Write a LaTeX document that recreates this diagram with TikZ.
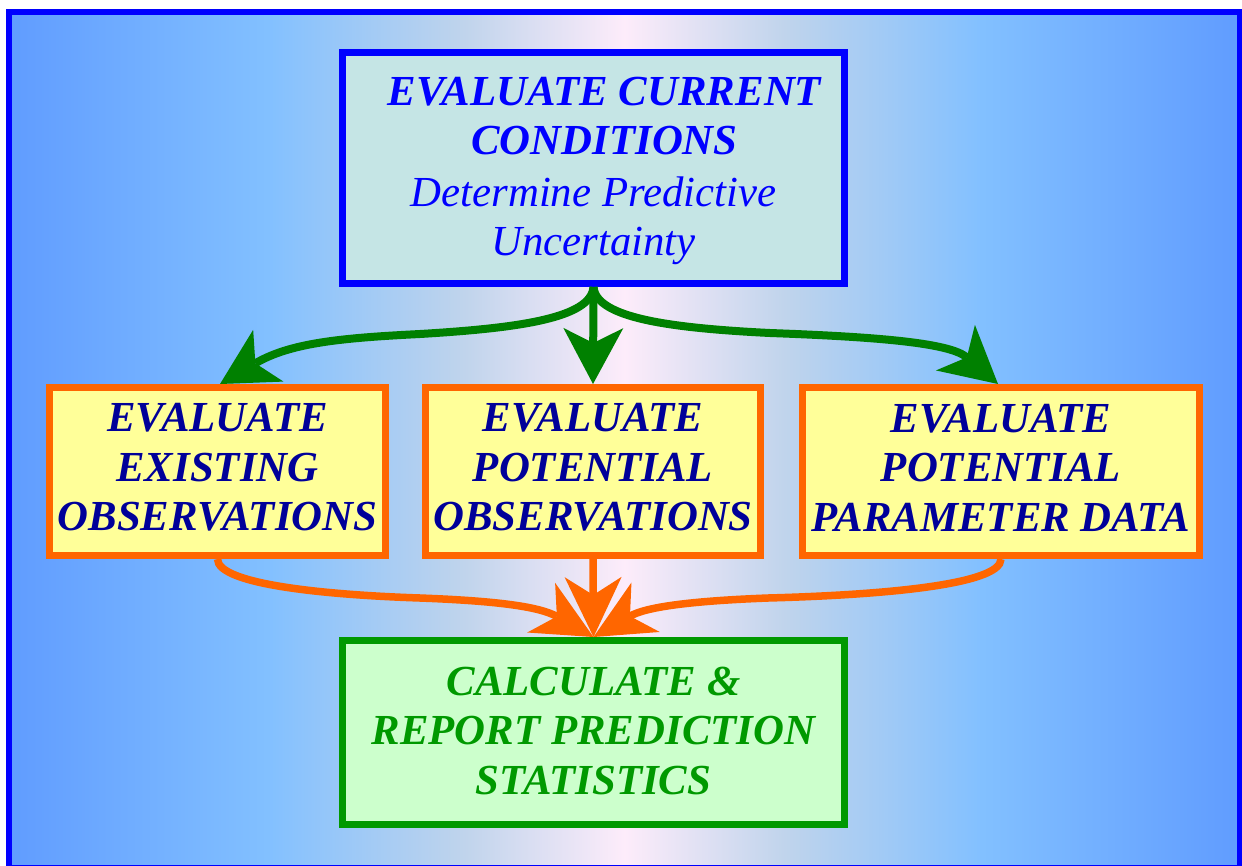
\documentclass[tikz,border=0pt]{standalone}
\usepackage{fontspec}
\setmainfont{Liberation Serif}
\usetikzlibrary{arrows.meta}
\definecolor{bgA}{RGB}{96,156,255}
\definecolor{bgB}{RGB}{130,192,255}
\definecolor{bgC}{RGB}{192,212,236}
\definecolor{bgD}{RGB}{253,236,250}
\definecolor{topblue}{RGB}{0,0,255}
\definecolor{topfill}{RGB}{197,229,229}
\definecolor{midorange}{RGB}{255,102,0}
\definecolor{midfill}{RGB}{255,255,153}
\definecolor{midtext}{RGB}{0,0,153}
\definecolor{botgreen}{RGB}{0,153,0}
\definecolor{botfill}{RGB}{204,255,204}
\definecolor{arrgreen}{RGB}{0,128,0}
\pgfdeclarehorizontalshading{bgshade}{100bp}{color(0bp)=(bgA); color(25bp)=(bgA); color(35.5bp)=(bgB); color(43.5bp)=(bgC); color(50bp)=(bgD); color(56.5bp)=(bgC); color(64.5bp)=(bgB); color(75bp)=(bgA); color(100bp)=(bgA)}
\tikzset{
  boxbase/.style={line width=7pt, inner sep=0pt},
  topbox/.style={boxbase, draw=topblue, fill=topfill,
    minimum width=502pt, minimum height=231pt},
  midbox/.style={boxbase, draw=midorange, fill=midfill, minimum height=168pt},
  botbox/.style={boxbase, draw=botgreen, fill=botfill,
    minimum width=502pt, minimum height=184pt},
  txtbase/.style={inner sep=0pt, align=center},
  toptext/.style={txtbase, text=topblue, font=\fontsize{42.8}{49.5}\selectfont\itshape},
  midtext/.style={txtbase, text=midtext, font=\fontsize{42.8}{49.5}\selectfont\bfseries\itshape},
  bottext/.style={txtbase, text=botgreen, font=\fontsize{42.8}{49.5}\selectfont\bfseries\itshape},
  garrow/.style={draw=arrgreen, line width=8pt,
    -{Stealth[length=56pt,width=60pt,inset=15pt,line width=0pt]}},
  oarrow/.style={draw=midorange, line width=7.5pt,
    -{Stealth[length=60pt,width=57pt,inset=18pt,line width=0pt]}},
  frame/.style={draw=topblue, line width=6pt}
}
\begin{document}
\begin{tikzpicture}[x=1pt,y=-1pt]
\useasboundingbox (0,0) rectangle (1242,865);
\shade[shading=bgshade] (9,12) rectangle (1240,868);
\draw[frame] (9,12) rectangle (1240,868);

\node[topbox] (top) at (593.5,168) {};
\node[midbox, minimum width=336pt] (ex) at (217.5,471.5) {};
\node[midbox, minimum width=335pt] (po) at (593,471.5) {};
\node[midbox, minimum width=397pt] (pa) at (1001,471.5) {};
\node[botbox] (bot) at (593.5,732.5) {};

\node[toptext] (topt) at ([yshift=-3pt]top.center) {\hspace*{22pt}\textbf{EVALUATE CURRENT}\\\hspace*{22pt}\textbf{CONDITIONS}\\[2pt]Determine Predictive\\Uncertainty};
\node[midtext] (ext) at ([yshift=4pt]ex.center) {EVALUATE\\EXISTING\\OBSERVATIONS};
\node[midtext] (pot) at ([yshift=4pt]po.center) {EVALUATE\\POTENTIAL\\OBSERVATIONS};
\node[midtext] (pat) at ([yshift=4pt]pa.center) {EVALUATE\\POTENTIAL\\PARAMETER DATA};
\node[bottext] (bott) at ([yshift=2pt]bot.center) {CALCULATE \&\\REPORT PREDICTION\\STATISTICS};

\coordinate (gl) at (420,334);
\coordinate (gr) at (770,333);
\coordinate (ol) at (420,598);
\coordinate (or) at (768,598);

\draw[garrow] (top.south) -- (po.north);
\draw[garrow] (top.south) .. controls (591,318) and (520,328) .. (gl)
  .. controls (340,338) and (290,343) .. ([xshift=2.5pt]ex.north);
\draw[garrow] (top.south) .. controls (596,318) and (670,328) .. (gr)
  .. controls (880,337) and (950,343) .. ([xshift=-3pt]pa.north);

\draw[oarrow] (po.south) -- (bot.north);
\draw[oarrow] (ex.south) .. controls (217.5,585) and (330,595) .. (ol)
  .. controls (500,601) and (540,607) .. (bot.north);
\draw[oarrow] (pa.south) .. controls (1001,585) and (880,595) .. (or)
  .. controls (690,601) and (646,607) .. (bot.north);
\end{tikzpicture}
\end{document}
